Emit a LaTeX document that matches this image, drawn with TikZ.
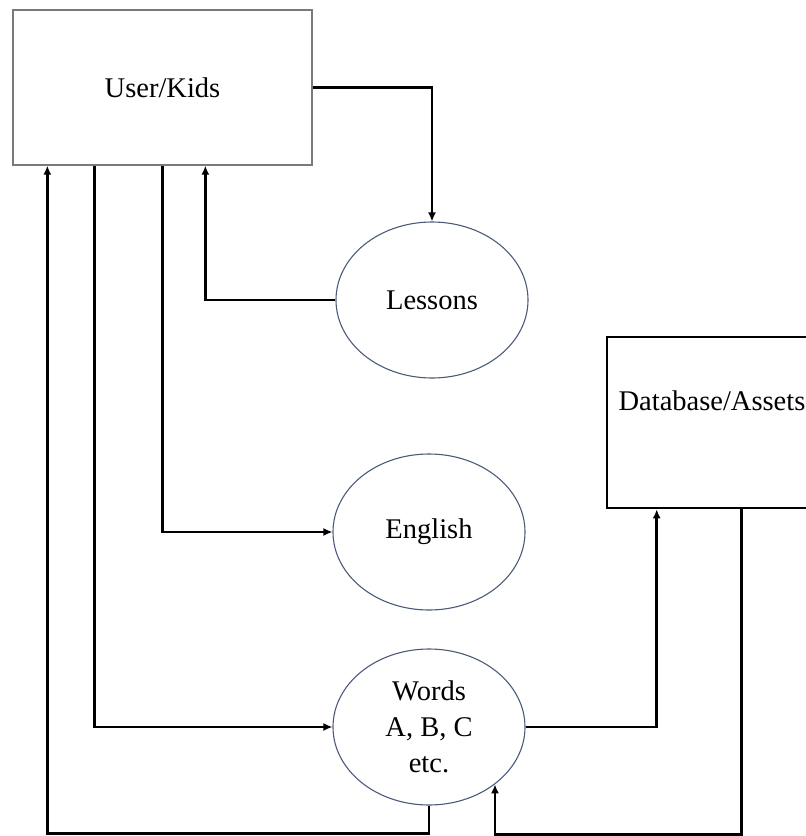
\documentclass[tikz,border=0pt]{standalone}
\usepackage{fontspec}
\setmainfont{Liberation Serif}
\usetikzlibrary{arrows.meta,positioning,shapes.geometric}
\definecolor{palGray}{HTML}{7A7A7A}
\definecolor{palSlate}{HTML}{4A5A78}

\begin{document}
\begin{tikzpicture}[
  x=1pt, y=-1pt,
  font=\fontsize{28.5}{36}\selectfont,
  entity/.style={draw, rectangle, align=center, inner sep=0pt},
  userbox/.style={entity, draw=palGray, line width=1.3pt, minimum width=299pt, minimum height=155pt},
  storebox/.style={entity, draw=black, line width=2.6pt, minimum width=210pt, minimum height=171pt},
  process/.style={draw=palSlate, ellipse, line width=1.1pt, align=center, inner sep=0pt, minimum width=192pt, minimum height=156pt},
  arrow/.style={-{Latex[length=9pt,width=8pt]}, line width=2.6pt},
]
\useasboundingbox (0,0) rectangle (806,836);

\node[userbox] (user) at (162.5,87.5) {User/Kids};
\node[process] (lessons) at (432,300) {Lessons};
\node[process] (english) at (429,532) {English};
\node[process] (words) at (429,727) {Words\\A, B, C\\etc.};
\node[storebox] (dbase) at (712,422.5) {\raisebox{12pt}[0pt][0pt]{Database/Assets}};

\draw[arrow] (user.east) -| (lessons.north);
\draw[arrow] (lessons.west) -| ([xshift=193pt]user.south west);
\draw[arrow] (user.south) |- (english.west);
\draw[arrow] ([xshift=82pt]user.south west) |- (words.west);
\draw[arrow] (words.south) -- ++(0,28) -| ([xshift=35pt]user.south west);
\draw[arrow] (words.east) -| ([xshift=51pt]dbase.south west);
\draw[arrow] ([xshift=136pt]dbase.south west) -- ++(0,325) -| (words.-41);
\end{tikzpicture}
\end{document}
